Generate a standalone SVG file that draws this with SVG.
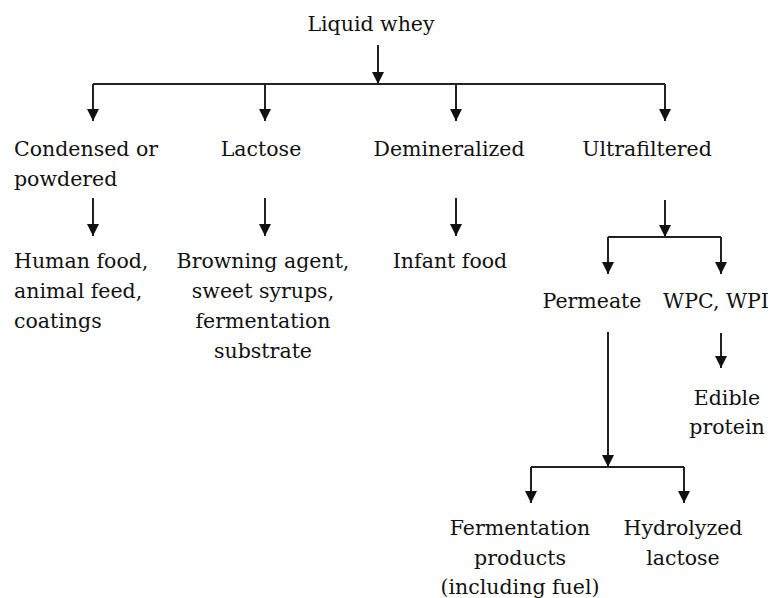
<svg xmlns="http://www.w3.org/2000/svg" width="776" height="598" viewBox="0 0 776 598">
<style>
text{font-family:'DejaVu Serif',serif;font-size:20.5px;fill:#111}
.c{text-anchor:middle}
.ln{stroke:#222;stroke-width:2;fill:none}
.ar{stroke:#222;stroke-width:2;fill:none;marker-end:url(#ah)}
</style>
<defs>
<marker id="ah" markerUnits="userSpaceOnUse" markerWidth="12" markerHeight="12" refX="12" refY="6" orient="auto" viewBox="0 0 12 12">
<path d="M0,0 L12,6 L0,12 z" fill="#111"/>
</marker>
</defs>
<rect width="776" height="598" fill="#fff"/>
<g id="connectors">
<line class="ar" x1="378" y1="45" x2="378" y2="84"/>
<line class="ln" x1="93" y1="84" x2="665" y2="84"/>
<line class="ar" x1="93" y1="84" x2="93" y2="121"/>
<line class="ar" x1="265" y1="84" x2="265" y2="121"/>
<line class="ar" x1="456" y1="84" x2="456" y2="121"/>
<line class="ar" x1="665" y1="84" x2="665" y2="121"/>
<line class="ar" x1="93" y1="198" x2="93" y2="236"/>
<line class="ar" x1="265" y1="198" x2="265" y2="236"/>
<line class="ar" x1="456" y1="198" x2="456" y2="236"/>
<line class="ar" x1="665" y1="200" x2="665" y2="237"/>
<line class="ln" x1="608" y1="237" x2="721" y2="237"/>
<line class="ar" x1="608" y1="237" x2="608" y2="274"/>
<line class="ar" x1="721" y1="237" x2="721" y2="274"/>
<line class="ar" x1="608" y1="332" x2="608" y2="467"/>
<line class="ln" x1="531" y1="467" x2="684" y2="467"/>
<line class="ar" x1="531" y1="467" x2="531" y2="503"/>
<line class="ar" x1="684" y1="467" x2="684" y2="503"/>
<line class="ar" x1="721" y1="333" x2="721" y2="368"/>
</g>
<g id="liquid-whey"><text class="c" x="371" y="31">Liquid whey</text></g>
<g id="condensed"><text x="14" y="156">Condensed or</text><text x="14" y="186">powdered</text></g>
<g id="lactose"><text class="c" x="261" y="156">Lactose</text></g>
<g id="demineralized"><text class="c" x="449" y="156">Demineralized</text></g>
<g id="ultrafiltered"><text class="c" x="647" y="156">Ultrafiltered</text></g>
<g id="human-food"><text x="14" y="268">Human food,</text><text x="14" y="298">animal feed,</text><text x="14" y="328">coatings</text></g>
<g id="browning"><text class="c" x="263" y="268">Browning agent,</text><text class="c" x="263" y="298">sweet syrups,</text><text class="c" x="263" y="328">fermentation</text><text class="c" x="263" y="358">substrate</text></g>
<g id="infant-food"><text class="c" x="450" y="268">Infant food</text></g>
<g id="permeate"><text class="c" x="592" y="308">Permeate</text></g>
<g id="wpc"><text class="c" x="716" y="308">WPC, WPI</text></g>
<g id="edible"><text class="c" x="727" y="405">Edible</text><text class="c" x="727" y="434">protein</text></g>
<g id="fermentation"><text class="c" x="520" y="535">Fermentation</text><text class="c" x="520" y="565">products</text><text class="c" x="520" y="594">(including fuel)</text></g>
<g id="hydrolyzed"><text class="c" x="683" y="535">Hydrolyzed</text><text class="c" x="683" y="565">lactose</text></g>
</svg>
